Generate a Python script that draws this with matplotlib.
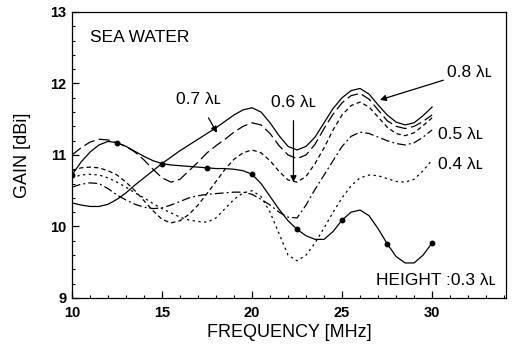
import numpy as np
import matplotlib
matplotlib.use('Agg')
import matplotlib.pyplot as plt

# frequency grid (MHz)
freq = [10, 10.5, 11, 11.5, 12, 12.5, 13, 13.5, 14, 14.5, 15, 15.5, 16, 16.5, 17, 17.5,
        18, 18.5, 19, 19.5, 20, 20.5, 21, 21.5, 22, 22.5, 23, 23.5, 24, 24.5, 25, 25.5,
        26, 26.5, 27, 27.5, 28, 28.5, 29, 29.5, 30]

# gain [dBi] for each antenna height
g_08 = [10.33, 10.30, 10.28, 10.28, 10.31, 10.38, 10.47, 10.58, 10.68, 10.78, 10.88, 10.97,
        11.06, 11.14, 11.22, 11.30, 11.38, 11.47, 11.56, 11.63, 11.66, 11.60, 11.45, 11.27,
        11.12, 11.07, 11.12, 11.25, 11.45, 11.65, 11.80, 11.90, 11.93, 11.85, 11.70, 11.56,
        11.46, 11.42, 11.45, 11.55, 11.67]
g_07 = [11.00, 11.10, 11.18, 11.22, 11.21, 11.17, 11.12, 11.04, 10.93, 10.80, 10.68, 10.62,
        10.66, 10.78, 10.90, 11.03, 11.13, 11.22, 11.32, 11.40, 11.45, 11.42, 11.30, 11.13,
        11.00, 10.95, 11.00, 11.15, 11.37, 11.57, 11.73, 11.83, 11.86, 11.78, 11.63, 11.48,
        11.40, 11.37, 11.40, 11.47, 11.56]
g_06 = [10.78, 10.82, 10.83, 10.82, 10.78, 10.72, 10.62, 10.50, 10.36, 10.22, 10.10, 10.05,
        10.08, 10.17, 10.30, 10.46, 10.63, 10.80, 10.94, 11.03, 11.07, 11.03, 10.92, 10.77,
        10.65, 10.62, 10.70, 10.88, 11.10, 11.35, 11.56, 11.69, 11.74, 11.67, 11.53, 11.39,
        11.30, 11.27, 11.31, 11.41, 11.52]
g_05 = [10.55, 10.59, 10.61, 10.60, 10.53, 10.44, 10.37, 10.31, 10.27, 10.25, 10.26, 10.30,
        10.35, 10.40, 10.43, 10.45, 10.46, 10.47, 10.48, 10.48, 10.45, 10.38, 10.30, 10.20,
        10.13, 10.12, 10.30, 10.52, 10.72, 10.92, 11.12, 11.26, 11.32, 11.30, 11.25, 11.20,
        11.16, 11.14, 11.17, 11.25, 11.35]
g_04 = [10.68, 10.72, 10.73, 10.72, 10.68, 10.62, 10.55, 10.47, 10.40, 10.32, 10.25, 10.19,
        10.13, 10.09, 10.07, 10.06, 10.12, 10.25, 10.38, 10.47, 10.50, 10.42, 10.20, 9.90,
        9.60, 9.52, 9.60, 9.77, 9.98, 10.20, 10.40, 10.57, 10.68, 10.72, 10.71, 10.67,
        10.63, 10.62, 10.66, 10.78, 10.93]
g_03 = [10.72, 10.90, 11.04, 11.14, 11.19, 11.17, 11.12, 11.05, 10.98, 10.92, 10.88, 10.86,
        10.85, 10.84, 10.83, 10.82, 10.81, 10.81, 10.80, 10.78, 10.73, 10.60, 10.42, 10.24,
        10.08, 9.96, 9.87, 9.82, 9.82, 9.93, 10.09, 10.20, 10.23, 10.15, 9.97, 9.76,
        9.58, 9.49, 9.49, 9.60, 9.77]

plt.rcParams['font.family'] = ['Liberation Sans', 'DejaVu Sans']

fig = plt.figure(figsize=(5.16, 3.51), dpi=100)
ax = fig.add_axes([0.1395, 0.151, 0.841, 0.815])

lw = 0.9
ax.plot(freq, g_08, color='black', lw=lw)
ax.plot(freq, g_07, color='black', lw=lw, dashes=(9, 3.5))
ax.plot(freq, g_06, color='black', lw=lw, dashes=(3.5, 2.5))
ax.plot(freq, g_05, color='black', lw=lw, dashes=(7, 2.5, 1.5, 2.5))
ax.plot(freq, g_04, color='black', lw=lw, dashes=(1.8, 2.8))
ax.plot(freq, g_03, color='black', lw=lw)
ax.plot(freq[::5], g_03[::5], 'o', color='black', ms=3.2)

ax.set_xlim(10, 34.1)
ax.set_ylim(9, 13)
ax.set_xticks([10, 15, 20, 25, 30])
ax.set_yticks([9, 10, 11, 12, 13])
ax.set_xticks(np.arange(10, 34.1, 1), minor=True)
ax.set_yticks(np.arange(9, 13.01, 0.2), minor=True)
ax.tick_params(which='both', direction='in', top=False, right=False)
ax.tick_params(which='major', length=5, width=0.9, labelsize=10.5)
ax.tick_params(axis='x', which='major', pad=6)
ax.tick_params(axis='y', which='major', pad=4)
ax.tick_params(which='minor', length=2.5, width=0.8)
for lab in ax.get_xticklabels() + ax.get_yticklabels():
    lab.set_fontweight('bold')
for s in ax.spines.values():
    s.set_linewidth(0.9)

ax.set_xlabel('FREQUENCY [MHz]', fontsize=13, labelpad=3)
ax.set_ylabel('GAIN [dBi]', fontsize=13, labelpad=14)

fs = 12.5
ax.text(11.0, 12.64, 'SEA WATER', fontsize=fs, va='center', ha='left')

akw = dict(arrowstyle='-|>', color='black', lw=0.9, mutation_scale=9)
ax.annotate('0.7 λʟ', xy=(18.05, 11.31), xytext=(15.75, 11.78), fontsize=fs,
            va='center', ha='left', arrowprops=dict(akw, shrinkA=7, shrinkB=0))
ax.annotate('0.6 λʟ', xy=(22.3, 10.62), xytext=(22.3, 11.74), fontsize=fs,
            va='center', ha='center', arrowprops=dict(akw, shrinkA=6, shrinkB=0))
ax.annotate('0.8 λʟ', xy=(27.1, 11.77), xytext=(30.85, 12.16), fontsize=fs,
            va='center', ha='left', arrowprops=dict(akw, shrinkA=1, shrinkB=0))
ax.text(30.35, 11.28, '0.5 λʟ', fontsize=fs, va='center', ha='left')
ax.text(30.35, 10.87, '0.4 λʟ', fontsize=fs, va='center', ha='left')
ax.text(33.5, 9.25, 'HEIGHT :0.3 λʟ', fontsize=fs, va='center', ha='right')

fig.savefig('out.png', dpi=100)
